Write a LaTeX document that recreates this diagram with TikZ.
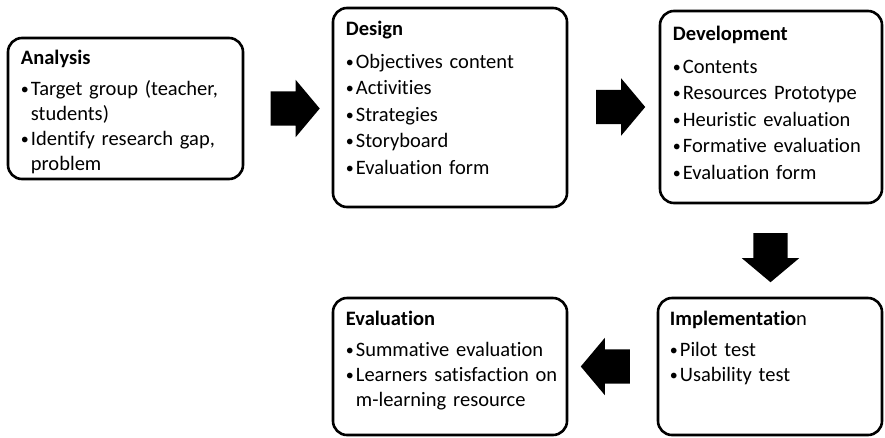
\documentclass[tikz,border=0pt]{standalone}
\usepackage{fontspec}
\setmainfont[Ligatures=NoCommon]{Carlito}
\usetikzlibrary{shapes.arrows,calc,positioning}

\newcommand{\stagetitle}[1]{{\bfseries #1\par}\vspace{6pt}}
\newcommand{\stageitem}[1]{\hangindent=10pt\hangafter=1\noindent
    \makebox[10pt][l]{\raisebox{1.2pt}{\fontsize{16}{16}\selectfont•}}#1\par}

\tikzset{
  stage/.style={draw=black, line width=2.6pt, rounded corners=14pt, fill=white, inner sep=0pt},
  stagetext/.style={anchor=base west, inner sep=0pt, text width=228pt, align=left,
                    font=\fontsize{20.5}{25}\selectfont},
  widetext/.style={stagetext, font=\fontsize{20.5}{26.5}\selectfont},
  blockarrow/.style={single arrow, fill=black, draw=none, inner sep=0pt,
                     text height=17pt, text depth=17pt, minimum height=49pt,
                     single arrow head extend=11.5pt, single arrow tip angle=100}
}

\begin{document}
\begin{tikzpicture}[x=1pt,y=-1pt]
    \useasboundingbox (0,0) rectangle (885,437);

    % the five stages
    \node[stage, minimum width=235pt, minimum height=141pt] (ana) at (125.5,108.5) {};
    \node[stage, minimum width=234pt, minimum height=199pt] (des) at (450,107.5)   {};
    \node[stage, minimum width=222pt, minimum height=192pt] (dev) at (771,107)     {};
    \node[stage, minimum width=224pt, minimum height=137pt] (imp) at (770,366.5)   {};
    \node[stage, minimum width=234pt, minimum height=137pt] (eva) at (450,366.5)   {};

    \node[stagetext] (anatxt) at ([xshift=14pt,yshift=-28pt]ana.north west) {
        \stagetitle{Analysis}
        \stageitem{Target group (teacher,\newline students)}
        \stageitem{Identify research gap,\newline problem}};
    \node[widetext] (destxt) at ([xshift=14pt,yshift=-29pt]des.north west) {
        \stagetitle{Design}
        \stageitem{Objectives content}
        \stageitem{Activities}
        \stageitem{Strategies}
        \stageitem{Storyboard}
        \stageitem{Evaluation form}};
    \node[widetext] (devtxt) at ([xshift=14pt,yshift=-31pt]dev.north west) {
        \stagetitle{Development}
        \stageitem{Contents}
        \stageitem{Resources Prototype}
        \stageitem{Heuristic evaluation}
        \stageitem{Formative evaluation}
        \stageitem{Evaluation form}};
    \node[stagetext] (imptxt) at ([xshift=13pt,yshift=-29pt]imp.north west) {
        \stagetitle{Implementatio\textmd{n}}
        \stageitem{Pilot test}
        \stageitem{Usability test}};
    \node[stagetext] (evatxt) at ([xshift=14pt,yshift=-29pt]eva.north west) {
        \stagetitle{Evaluation}
        \stageitem{Summative evaluation}
        \stageitem{Learners satisfaction on\newline m-learning resource}};

    % block arrows between the stages
    \node[blockarrow] (anades) at ($(ana.east)!0.5!(des.west |- ana.east)$) {};
    \node[blockarrow] (desdev) at ($(des.east |- dev.west)!0.5!(dev.west)$) {};
    \node[blockarrow, rotate=-90] (devimp) at ($(dev.south)!0.5!(imp.north)$) {};
    \node[blockarrow, rotate=180] (impeva) at ($(imp.west)!0.5!(eva.east)$) {};

\end{tikzpicture}
\end{document}
